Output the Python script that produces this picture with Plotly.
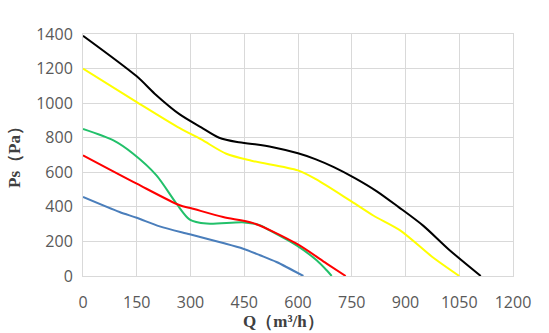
import plotly.graph_objects as go

black_x = [0, 150, 200, 270, 330, 380, 430, 480, 530, 600, 650, 700, 760, 820, 880, 950, 1020, 1110]
black_y = [1390, 1155, 1055, 935, 860, 800, 775, 762, 745, 710, 675, 630, 565, 490, 400, 290, 155, 0]

yellow_x = [0, 150, 270, 330, 400, 470, 600, 650, 750, 810, 885, 975, 1050]
yellow_y = [1200, 1006, 855, 790, 707, 667, 611, 560, 430, 350, 264, 110, 0]

green_x = [0, 85, 140, 205, 261, 298, 345, 450, 495, 512, 596, 652, 680, 694]
green_y = [850, 784, 707, 582, 418, 326, 303, 310, 293, 274, 177, 91, 33, 0]

red_x = [0, 150, 270, 300, 391, 475, 596, 680, 733]
red_y = [698, 534, 409, 393, 341, 306, 187, 72, 0]

blue_x = [0, 102, 150, 214, 298, 391, 447, 494, 540, 615]
blue_y = [457, 370, 337, 287, 241, 191, 158, 120, 81, 0]

x_ticks = [0, 150, 300, 450, 600, 750, 900, 1050, 1200]
y_ticks = [0, 200, 400, 600, 800, 1000, 1200, 1400]

series = [
    (black_x, black_y, "#000000"),
    (yellow_x, yellow_y, "#FFFF00"),
    (green_x, green_y, "#22C06A"),
    (red_x, red_y, "#FF0000"),
    (blue_x, blue_y, "#4A7EBB"),
]

fig = go.Figure()
for xs, ys, c in series:
    fig.add_trace(go.Scatter(x=xs, y=ys, mode="lines",
                             line=dict(color=c, width=2, shape="spline", smoothing=0.8),
                             showlegend=False, hoverinfo="skip"))

tickfont = dict(family="Open Sans", size=16, color="#595959")
fig.update_layout(
    width=549, height=333,
    margin=dict(l=83, r=36, t=34, b=57),
    paper_bgcolor="white", plot_bgcolor="white",
    xaxis=dict(range=[0, 1200], tickvals=x_ticks, ticktext=[str(v) for v in x_ticks],
               showgrid=True, gridcolor="#d9d9d9", gridwidth=1, zeroline=False,
               showline=True, linecolor="#d9d9d9", linewidth=1, mirror=True,
               tickfont=tickfont, ticks="", ticklabelstandoff=12),
    yaxis=dict(range=[0, 1400], tickvals=y_ticks, ticktext=[str(v) for v in y_ticks],
               showgrid=True, gridcolor="#d9d9d9", gridwidth=1, zeroline=False,
               showline=True, linecolor="#d9d9d9", linewidth=1, mirror=True,
               tickfont=tickfont, ticks="", ticklabelstandoff=6),
    annotations=[
        dict(text="<b>Q（m³/h）</b>", xref="paper", yref="paper",
             x=(283 - 83) / 430, y=-(321 - 276) / 242, xanchor="center", yanchor="middle",
             showarrow=False, font=dict(family="Liberation Serif", size=17, color="#404040")),
        dict(text="<b>Ps（Pa）</b>", xref="paper", yref="paper",
             x=(14 - 83) / 430, y=(276 - 153) / 242, xanchor="center", yanchor="middle",
             textangle=-90, showarrow=False,
             font=dict(family="Liberation Serif", size=17, color="#404040")),
    ],
)
fig.write_html("out.html")
